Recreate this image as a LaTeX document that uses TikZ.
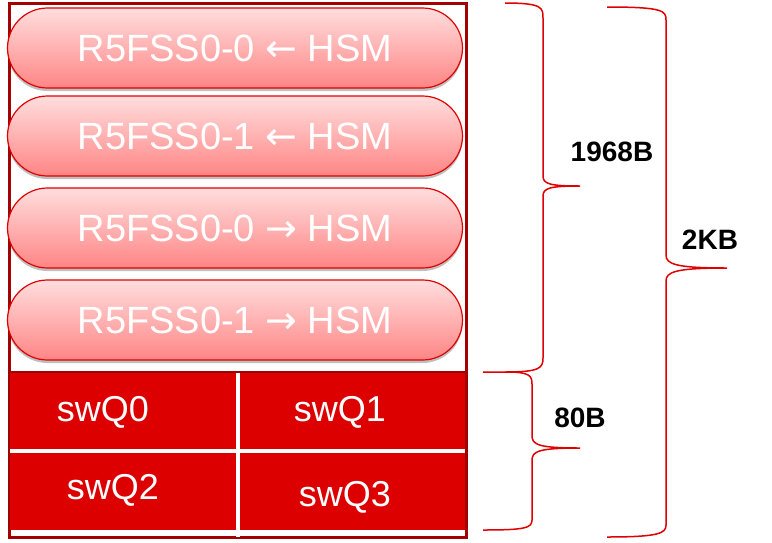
\documentclass[tikz,border=0pt]{standalone}
\usepackage{fontspec}
\setmainfont{Liberation Sans}
\newfontfamily\arrowfont{DejaVu Sans}
\usetikzlibrary{shadows}
\definecolor{boxred}{HTML}{A30000}
\definecolor{qred}{HTML}{DC0000}
\definecolor{linered}{HTML}{E00000}
\definecolor{pilltop}{HTML}{FFDDDD}
\definecolor{pillbot}{HTML}{FF8585}
\newcommand\toleft{{\arrowfont\char"2190}}
\newcommand\toright{{\arrowfont\char"2192}}
\begin{document}
\begin{tikzpicture}
[x=1pt, y=-1pt,
 pill/.style={draw=linered, line width=1.2pt, top color=pilltop, bottom color=pillbot,
   rounded corners=40pt, minimum width=455pt, minimum height=80pt, text=white,
   font=\fontsize{38}{42}\selectfont,
   drop shadow={shadow xshift=0pt, shadow yshift=-3pt, opacity=.25, fill=black}},
 queue/.style={text=white, font=\fontsize{36}{40}\selectfont},
 brace/.style={draw=linered, line width=1.5pt},
 size/.style={font=\bfseries\fontsize{28}{32}\selectfont}]
\fill[white] (0,0) rectangle (772,542);
\useasboundingbox (0,0) rectangle (772,542);
% memory block
\draw[boxred, line width=3pt] (9,3) rectangle (466,537);
\fill[qred] (10,372) rectangle (465,530);
\draw[boxred, line width=2pt] (10,372) -- (465,372);
\draw[white, line width=4pt] (10,451) -- (465,451);
\draw[white, line width=4pt] (238,373) -- (238,537);
% mailboxes
\node[pill] (r0in) at (235,48) {R5FSS0-0 \toleft{} HSM};
\node[pill] (r1in) at (235,136) {R5FSS0-1 \toleft{} HSM};
\node[pill] (r0out) at (235,228) {R5FSS0-0 \toright{} HSM};
\node[pill] (r1out) at (235,320) {R5FSS0-1 \toright{} HSM};
% queues
\node[queue] (q0) at (103,412) {swQ0};
\node[queue] (q1) at (340,412) {swQ1};
\node[queue] (q2) at (113,490) {swQ2};
\node[queue] (q3) at (345,497) {swQ3};
% braces
\draw[brace] (505,3) .. controls (543,3) and (543,8) .. (543,18) -- (543,176)
  .. controls (543,184) and (550,186) .. (580,186)
  .. controls (550,186) and (543,188) .. (543,196) -- (543,358)
  .. controls (543,368) and (540,372) .. (505,372);
\draw[brace] (483,372) -- (507,372) .. controls (530,372) and (532,376) .. (532,384) -- (532,436)
  .. controls (532,445) and (540,448) .. (580,448)
  .. controls (540,448) and (532,451) .. (532,460) -- (532,520)
  .. controls (532,528) and (525,530) .. (483,530);
\draw[brace] (607,7) .. controls (664,7) and (666,11) .. (666,20) -- (666,255)
  .. controls (666,264) and (675,268) .. (727,268)
  .. controls (675,268) and (666,272) .. (666,281) -- (666,525)
  .. controls (666,533) and (660,537) .. (607,537);
\node[size] (s1968) at (612,152) {1968B};
\node[size] (s80) at (580,418) {80B};
\node[size] (s2k) at (710,240) {2KB};
\end{tikzpicture}
\end{document}
